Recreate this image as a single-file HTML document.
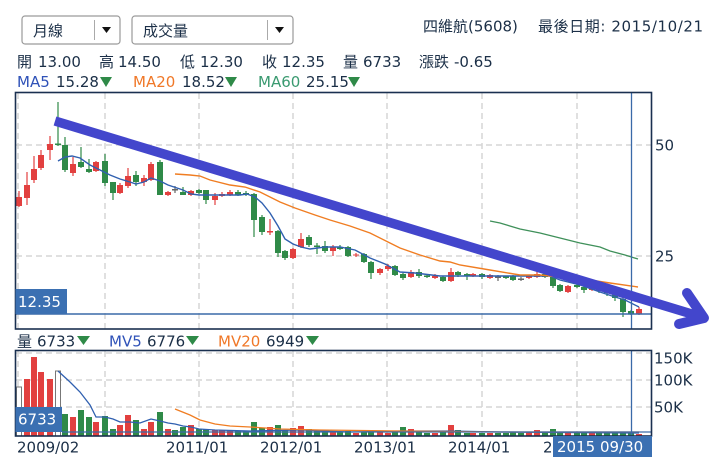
<!DOCTYPE html>
<html><head><meta charset="utf-8"><style>
html,body{margin:0;padding:0;background:#fff;}
svg{display:block;}
text{font-family:"DejaVu Sans","Noto Sans CJK TC",sans-serif;font-size:15px;fill:#1b2f47;}
</style></head><body>
<svg width="712" height="469" viewBox="0 0 712 469" xmlns="http://www.w3.org/2000/svg">
<rect width="712" height="469" fill="#fff"/>
<!-- dropdowns -->
<rect x="22" y="16" width="98" height="28" rx="3" fill="#fff" stroke="#9a9a9a" stroke-width="1.2"/>
<text x="33" y="36">月線</text>
<line x1="94.5" y1="20" x2="94.5" y2="40" stroke="#aaa"/>
<polygon points="102,27 111,27 106.5,33" fill="#111"/>
<rect x="132" y="16" width="161" height="28" rx="3" fill="#fff" stroke="#9a9a9a" stroke-width="1.2"/>
<text x="143" y="36">成交量</text>
<line x1="267.5" y1="20" x2="267.5" y2="40" stroke="#aaa"/>
<polygon points="275,27 284,27 279.5,33" fill="#111"/>
<text x="423" y="31.5">四維航(5608)</text>
<text x="538" y="31.5" textLength="165">最後日期: 2015/10/21</text>
<!-- info row -->
<text x="17" y="67">開</text><text x="38" y="67">13.00</text>
<text x="99" y="67">高</text><text x="118" y="67">14.50</text>
<text x="180" y="67">低</text><text x="200" y="67">12.30</text>
<text x="262" y="67">收</text><text x="282" y="67">12.35</text>
<text x="343" y="67">量</text><text x="363" y="67">6733</text>
<text x="419" y="67">漲跌</text><text x="454" y="67">-0.65</text>
<!-- MA row -->
<text x="17" y="87" style="fill:#2f52b8">MA5</text><text x="56" y="87">15.28</text>
<polygon points="100,77 112,77 106,87" fill="#2f8a48"/>
<text x="133" y="87" style="fill:#f07828">MA20</text><text x="182" y="87">18.52</text>
<polygon points="225,77 237,77 231,87" fill="#2f8a48"/>
<text x="258" y="87" style="fill:#3a9a70">MA60</text><text x="306" y="87">25.15</text>
<polygon points="348,77 360,77 354,87" fill="#2f8a48"/>

<!-- main grid -->
<g stroke="#d6d6d6" stroke-width="1.5" stroke-dasharray="6,4" fill="none">
<path d="M18 93V329M105 93V329M199 93V329M293 93V329M387 93V329M482 93V329M577 93V329"/>
<path d="M16 145H651M16 256H651"/>
<path d="M18 351V436M105 351V436M199 351V436M293 351V436M387 351V436M482 351V436M577 351V436"/>
<path d="M16 353H651M16 380H651M16 407H651"/>
</g>

<!-- candles red -->
<g stroke="#e2403f" stroke-width="1.2" fill="none">
<path d="M19 191V207M27 172V205M34 156V183M41 150V170M50 136V160M73 157V176M96 161V172M120 183V194M128 168V188M144 175V186M151 162V181M168 191V196M191 190V196M215 193V205M222 192V197M230 190V196M270 219V235M293 248V259M301 233V248M333 245V256M356 253V257M380 268V275M388 264V271M411 270V278M435 274V279M451 268V282M473 273V277M490 274V279M529 275V279M537 271V278M568 285V293M592 287V291M639 307V315"/>
</g>
<g fill="#e2403f">
<rect x="16" y="197" width="6" height="9"/><rect x="24" y="185" width="6" height="13"/><rect x="31" y="169" width="6" height="11"/><rect x="38" y="155" width="6" height="13"/><rect x="47" y="144" width="6" height="6"/><rect x="70" y="164" width="6" height="9"/><rect x="93" y="162" width="6" height="9"/><rect x="117" y="185" width="6" height="8"/><rect x="125" y="176" width="6" height="10"/><rect x="141" y="178" width="6" height="4"/><rect x="148" y="164" width="6" height="16"/><rect x="165" y="192" width="6" height="3"/><rect x="188" y="191" width="6" height="4"/><rect x="212" y="196" width="6" height="4"/><rect x="219" y="194" width="6" height="2"/><rect x="227" y="192" width="6" height="3"/><rect x="267" y="231" width="6" height="1.5"/><rect x="290" y="249" width="6" height="9"/><rect x="298" y="239" width="6" height="8"/><rect x="330" y="247" width="6" height="4"/><rect x="353" y="254.5" width="6" height="1"/><rect x="377" y="269" width="6" height="4"/><rect x="385" y="266" width="6" height="3"/><rect x="408" y="272" width="6" height="5"/><rect x="432" y="276" width="6" height="2"/><rect x="448" y="272" width="6" height="9"/><rect x="470" y="274" width="6" height="2"/><rect x="487" y="275" width="6" height="3"/><rect x="526" y="276" width="6" height="2"/><rect x="534" y="274" width="6" height="3"/><rect x="565" y="286" width="6" height="6"/><rect x="589" y="288" width="6" height="2"/><rect x="636" y="309" width="6" height="5"/>
</g>
<!-- candles green -->
<g stroke="#2f8a48" stroke-width="1.2" fill="none">
<path d="M58 102V146M65 137V172M81 147V168M89 159V173M105 154V186M113 182V200M136 171V186M160 160V195M183 187V195M199 189V194M206 190V204M238 190V196M246 191V196M254 193V237M262 215V235M278 230V257M285 250V260M309 235V247M317 243V254M325 241V253M340 245V250M348 246V257M364 253V263M371 261V279M395 265V276M403 273V280M419 269V278M427 274V278M443 276V282M458 271V277M467 273V280M482 273V279M506 276V279M513 275V281M545 273V278M553 276V288M560 284V292M577 284V288M584 286V293M599 287V293M607 289V296M615 291V301M623 298V317M631 310V315"/>
</g>
<g fill="#2f8a48">
<rect x="55" y="143.5" width="6" height="1.5"/><rect x="62" y="145" width="6" height="25"/><rect x="78" y="162" width="6" height="5"/><rect x="86" y="169" width="6" height="3"/><rect x="102" y="161" width="6" height="22"/><rect x="110" y="182" width="6" height="11"/><rect x="133" y="175" width="6" height="7"/><rect x="157" y="162" width="6" height="33"/><rect x="180" y="192" width="6" height="3"/><rect x="196" y="190" width="6" height="3"/><rect x="203" y="190" width="6" height="10"/><rect x="235" y="192" width="6" height="3"/><rect x="243" y="193" width="6" height="1.5"/><rect x="251" y="194" width="6" height="26"/><rect x="259" y="217" width="6" height="15"/><rect x="275" y="231" width="6" height="22"/><rect x="282" y="251" width="6" height="7"/><rect x="306" y="237" width="6" height="8"/><rect x="314" y="245.5" width="6" height="1.5"/><rect x="322" y="246" width="6" height="5"/><rect x="337" y="247.5" width="6" height="1.5"/><rect x="345" y="247" width="6" height="9"/><rect x="361" y="254" width="6" height="8"/><rect x="368" y="262" width="6" height="11"/><rect x="392" y="266" width="6" height="9"/><rect x="400" y="274" width="6" height="4"/><rect x="416" y="272" width="6" height="4"/><rect x="424" y="275.5" width="6" height="1.5"/><rect x="440" y="277" width="6" height="4"/><rect x="455" y="272" width="6" height="3"/><rect x="464" y="274" width="6" height="2"/><rect x="479" y="274" width="6" height="3"/><rect x="503" y="276.5" width="6" height="1.5"/><rect x="510" y="276" width="6" height="4"/><rect x="542" y="274" width="6" height="3"/><rect x="550" y="277" width="6" height="9"/><rect x="557" y="285" width="6" height="6"/><rect x="574" y="285" width="6" height="2"/><rect x="581" y="287" width="6" height="3"/><rect x="596" y="289" width="6" height="2"/><rect x="604" y="290" width="6" height="3"/><rect x="612" y="292" width="6" height="6"/><rect x="620" y="299" width="6" height="13"/><rect x="628" y="311" width="6" height="3"/>
</g>
<g stroke="#666" stroke-width="1.2" fill="#666">
<path d="M175 186V193M498 275V281M521 277V281" fill="none"/>
<rect x="172" y="189" width="6" height="1.5" stroke="none"/><rect x="495" y="276.5" width="6" height="1.5" stroke="none"/><rect x="518" y="278.5" width="6" height="1.5" stroke="none"/>
</g>

<!-- MAs -->
<polyline fill="none" stroke="#3060b0" stroke-width="1.4" points="58,161 65,157 72,156 80,158 90,165 100,170 110,175 120,179 130,182 136,184 144,182 151,178 160,181 168,185 183,190 191,194 199,195 240,195 247,194 255,197 262,203 270,213 278,226 285,239 293,244 301,247 310,249 325,247 340,247 355,250 370,258 385,264 400,272 415,273 440,276 550,276 560,280 580,285 600,292 615,297 625,300 639,307"/>
<polyline fill="none" stroke="#f07d22" stroke-width="1.4" points="175,174 190,175 200,176 210,180 230,185 245,187 260,192 280,202 295,208 315,215 330,220 350,226 370,233 390,243 400,248 420,255 440,261 450,262 460,265 490,270 520,275 540,275 560,277 590,280 610,283 638,287"/>
<polyline fill="none" stroke="#3f905a" stroke-width="1.3" points="490,221 500,223 520,229 540,233 560,238 580,243 600,247 610,251 625,255 638,259"/>

<!-- current lines -->
<line x1="16" y1="314" x2="651" y2="314" stroke="#3a6aa8" stroke-width="1.4"/>
<line x1="631.5" y1="93" x2="631.5" y2="329" stroke="#3a6aa8" stroke-width="1.3"/>

<!-- main frame -->
<rect x="15.5" y="92.5" width="636" height="236.5" fill="none" stroke="#1a3050" stroke-width="1.6"/>
<rect x="15.5" y="289" width="51.5" height="25" fill="#3b70b2"/>
<text x="18" y="307" style="fill:#fff">12.35</text>
<text x="655" y="150.5">50</text>
<text x="655" y="261.5">25</text>

<!-- volume labels -->
<text x="17" y="346.5">量</text><text x="37" y="346.5">6733</text>
<polygon points="77,336 90,336 83.5,345" fill="#2f8a48"/>
<text x="109" y="346.5" style="fill:#2f52b8">MV5</text><text x="147" y="346.5">6776</text>
<polygon points="186,336 199,336 192.5,345" fill="#2f8a48"/>
<text x="218" y="346.5" style="fill:#f07828">MV20</text><text x="266" y="346.5">6949</text>
<polygon points="306,336 319,336 312.5,345" fill="#2f8a48"/>

<!-- volume bars -->
<g fill="#fff" stroke="#777" stroke-width="1">
<rect x="16.5" y="387" width="5" height="49"/><rect x="55.5" y="371" width="5" height="65"/>
</g>
<g fill="#e2403f">
<rect x="24" y="379" width="6" height="57"/><rect x="31" y="357" width="6" height="79"/><rect x="38" y="372" width="6" height="64"/><rect x="47" y="379" width="6" height="57"/><rect x="70" y="417" width="6" height="19"/><rect x="93" y="422" width="6" height="14"/><rect x="117" y="425" width="6" height="11"/><rect x="125" y="415" width="6" height="21"/><rect x="141" y="429" width="6" height="7"/><rect x="148" y="422" width="6" height="14"/><rect x="165" y="429" width="6" height="7"/><rect x="188" y="425" width="6" height="11"/><rect x="212" y="430" width="6" height="6"/><rect x="219" y="430" width="6" height="6"/><rect x="227" y="430" width="6" height="6"/><rect x="267" y="427" width="6" height="9"/><rect x="290" y="428" width="6" height="8"/><rect x="298" y="426" width="6" height="10"/><rect x="330" y="432" width="6" height="4"/><rect x="353" y="433" width="6" height="3"/><rect x="377" y="432" width="6" height="4"/><rect x="385" y="433" width="6" height="3"/><rect x="408" y="429" width="6" height="7"/><rect x="432" y="433" width="6" height="3"/><rect x="448" y="425" width="6" height="11"/><rect x="470" y="433" width="6" height="3"/><rect x="487" y="433" width="6" height="3"/><rect x="526" y="432" width="6" height="4"/><rect x="534" y="430" width="6" height="6"/><rect x="565" y="432" width="6" height="4"/><rect x="589" y="433" width="6" height="3"/><rect x="636" y="434" width="6" height="2"/>
</g>
<g fill="#2f8a48">
<rect x="62" y="414" width="6" height="22"/><rect x="78" y="410" width="6" height="26"/><rect x="86" y="417" width="6" height="19"/><rect x="102" y="416" width="6" height="20"/><rect x="110" y="429" width="6" height="7"/><rect x="133" y="420" width="6" height="16"/><rect x="157" y="412" width="6" height="24"/><rect x="172" y="430" width="6" height="6"/><rect x="180" y="427" width="6" height="9"/><rect x="196" y="429" width="6" height="7"/><rect x="203" y="429" width="6" height="7"/><rect x="235" y="431" width="6" height="5"/><rect x="243" y="431" width="6" height="5"/><rect x="251" y="422" width="6" height="14"/><rect x="259" y="428" width="6" height="8"/><rect x="275" y="425" width="6" height="11"/><rect x="282" y="430" width="6" height="6"/><rect x="306" y="429" width="6" height="7"/><rect x="314" y="431" width="6" height="5"/><rect x="322" y="432" width="6" height="4"/><rect x="337" y="432" width="6" height="4"/><rect x="345" y="431" width="6" height="5"/><rect x="361" y="432" width="6" height="4"/><rect x="368" y="431" width="6" height="5"/><rect x="392" y="432" width="6" height="4"/><rect x="400" y="427" width="6" height="9"/><rect x="416" y="432" width="6" height="4"/><rect x="424" y="433" width="6" height="3"/><rect x="440" y="432" width="6" height="4"/><rect x="455" y="430" width="6" height="6"/><rect x="464" y="433" width="6" height="3"/><rect x="479" y="433" width="6" height="3"/><rect x="495" y="433" width="6" height="3"/><rect x="503" y="433" width="6" height="3"/><rect x="510" y="432" width="6" height="4"/><rect x="518" y="433" width="6" height="3"/><rect x="542" y="433" width="6" height="3"/><rect x="550" y="429" width="6" height="7"/><rect x="557" y="433" width="6" height="3"/><rect x="574" y="433" width="6" height="3"/><rect x="581" y="433" width="6" height="3"/><rect x="596" y="433" width="6" height="3"/><rect x="604" y="433" width="6" height="3"/><rect x="612" y="433" width="6" height="3"/><rect x="620" y="433" width="6" height="3"/><rect x="628" y="433" width="6" height="3"/>
</g>
<polyline fill="none" stroke="#3060b0" stroke-width="1.3" points="58,371 70,382 80,392 90,405 96,417 105,417 113,419 120,422 130,422 140,423 151,419 160,421 168,423 175,424 183,426 191,427 199,429 215,430 250,431 300,430 350,432 400,431 450,431 500,432 639,433"/>
<polyline fill="none" stroke="#f07d22" stroke-width="1.3" points="175,409 190,415 200,420 215,424 230,426 250,427 280,429 320,430 400,431 500,432 639,432"/>
<line x1="62" y1="432" x2="651" y2="432" stroke="#3a6aa8" stroke-width="1.3"/>
<line x1="631.5" y1="351" x2="631.5" y2="436" stroke="#3a6aa8" stroke-width="1.3"/>
<rect x="15.5" y="350.5" width="636" height="85.5" fill="none" stroke="#1a3050" stroke-width="1.6"/>
<rect x="15.5" y="407" width="46.5" height="25" fill="#3b70b2"/>
<text x="18" y="424.5" style="fill:#fff">6733</text>
<text x="654" y="363.5">150K</text>
<text x="654" y="385.5">100K</text>
<text x="654" y="412.5">50K</text>

<!-- x labels -->
<text x="17" y="452.5">2009/02</text>
<text x="166" y="452.5">2011/01</text>
<text x="260" y="452.5">2012/01</text>
<text x="354" y="452.5">2013/01</text>
<text x="448" y="452.5">2014/01</text>
<text x="543" y="452.5">2</text>
<rect x="553" y="436" width="99" height="21" fill="#3b70b2"/>
<text x="557" y="452" style="fill:#fff">2015 09/30</text>

<!-- arrow -->
<line x1="55" y1="121" x2="700" y2="316.5" stroke="#4346cc" stroke-width="9.5" stroke-linecap="butt"/>
<path d="M687 293 L704 318 L679 324" fill="none" stroke="#4346cc" stroke-width="10" stroke-linecap="round" stroke-linejoin="round"/>
</svg>
</body></html>
